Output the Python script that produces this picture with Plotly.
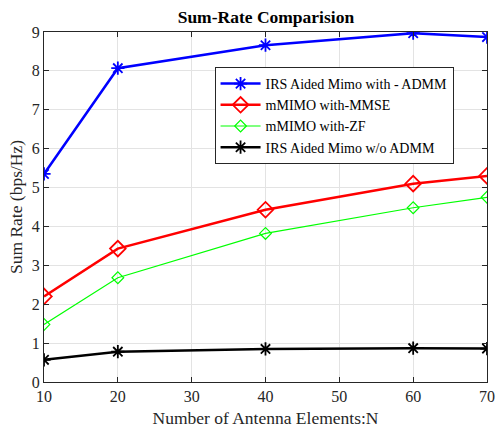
import plotly.graph_objects as go

x_vals = [10, 20, 40, 60, 70]
irs_admm = [5.35, 8.07, 8.66, 8.97, 8.87]
mmimo_mmse = [2.2, 3.43, 4.43, 5.1, 5.3]
mmimo_zf = [1.48, 2.68, 3.82, 4.48, 4.75]
irs_no_admm = [0.57, 0.78, 0.85, 0.87, 0.86]

names = ["IRS Aided Mimo with - ADMM", "mMIMO with-MMSE", "mMIMO with-ZF", "IRS Aided Mimo w/o ADMM"]
colors = ["#0000ff", "#ff0000", "#00ff00", "#000000"]
symbols = ["asterisk-open", "diamond-open", "diamond-open", "asterisk-open"]
widths = [2.5, 2.5, 1.2, 2.5]
msizes = [11, 12, 9, 11]
series = [irs_admm, mmimo_mmse, mmimo_zf, irs_no_admm]

fig = go.Figure()
for nm, c, s, w, ms, y in zip(names, colors, symbols, widths, msizes, series):
    fig.add_trace(go.Scatter(
        x=x_vals, y=y, name=nm, mode="lines+markers",
        line=dict(color=c, width=w),
        marker=dict(symbol=s, size=ms, color=c, line=dict(color=c, width=1.8 if w > 2 else 1.2)),
    ))

font_fam = "Liberation Serif, Times New Roman, serif"
fig.update_layout(
    width=497, height=430,
    margin=dict(l=44, r=10, t=32, b=48),
    paper_bgcolor="white", plot_bgcolor="white",
    font=dict(family=font_fam, size=16, color="#262626"),
    title=dict(text="<b>Sum-Rate Comparision</b>", x=0.535, xanchor="center", y=0.96, yanchor="middle",
               font=dict(size=17.5, color="#000000")),
    legend=dict(x=0.385, y=0.9, xanchor="left", yanchor="top",
                bgcolor="white", bordercolor="#262626", borderwidth=1,
                font=dict(size=14, color="#000000"), tracegroupgap=0, itemwidth=40),
    showlegend=True,
)
fig.update_xaxes(range=[10, 70], tickvals=[10, 20, 30, 40, 50, 60, 70],
                 showgrid=True, gridcolor="#e3e3e3", gridwidth=1,
                 showline=True, linecolor="#262626", linewidth=1, mirror="ticks",
                 ticks="inside", ticklen=5, tickcolor="#262626", zeroline=False,
                 automargin=False,
                 title=dict(text="Number of Antenna Elements:N", font=dict(size=17.5), standoff=7),
                 tickfont=dict(size=16))
fig.update_yaxes(range=[0, 9], dtick=1,
                 showgrid=True, gridcolor="#e3e3e3", gridwidth=1,
                 showline=True, linecolor="#262626", linewidth=1, mirror="ticks",
                 ticks="inside", ticklen=5, tickcolor="#262626", zeroline=False,
                 automargin=False,
                 title=dict(text="Sum Rate (bps/Hz)", font=dict(size=17.5), standoff=4),
                 tickfont=dict(size=16))

fig.write_html("out.html", config={"displayModeBar": False},
               post_script="document.body.style.margin='0';document.body.style.overflow='hidden';")
